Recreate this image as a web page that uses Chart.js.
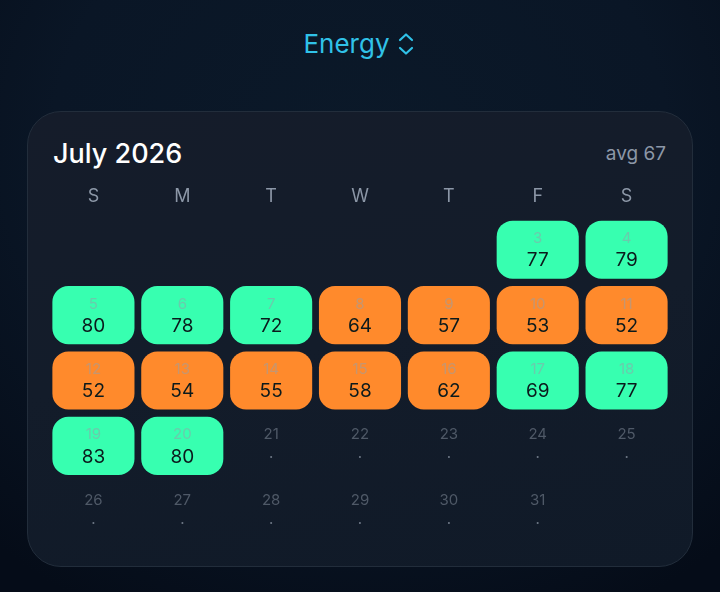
<!DOCTYPE html>
<html>
<head>
<meta charset="utf-8">
<title>Energy</title>
<script src="https://cdn.jsdelivr.net/npm/chart.js@4/dist/chart.umd.min.js"></script>
<style>
html, body { margin: 0; padding: 0; }
body {
    width: 720px; height: 592px; overflow: hidden; position: relative;
    font-family: Inter, "Noto Sans", sans-serif;
    background: radial-gradient(ellipse 560px 520px at 360px 150px, #0b1929 0%, #0a1626 55%, #050c18 100%);
}
#heading {
    position: absolute; left: -1px; top: 27px; width: 720px; height: 34px;
    display: flex; justify-content: center; align-items: center;
    color: #30c2e8; font-size: 26px; line-height: 34px;
}
#heading svg { margin-left: 8px; margin-right: 1px; }
#card {
    position: absolute; left: 27px; top: 111px; width: 664px; height: 454px;
    border: 1px solid #222d3b; border-radius: 34px;
    background: linear-gradient(170deg, #151c2a 0%, #131c2a 50%, #101a28 100%);
}
#month { position: absolute; left: 53px; top: 136px; color: #fff; font-size: 27px; font-weight: 500; line-height: 36px; }
#avg { position: absolute; right: 54px; top: 141px; color: #8c97a7; font-size: 19px; line-height: 26px; }
#chart { position: absolute; left: 0; top: 0; }
</style>
</head>
<body>
<div id="card"></div>
<div id="heading">Energy<svg width="16" height="24" viewBox="0 0 16 24" fill="none" stroke="#30c2e8" stroke-width="2.2" stroke-linecap="round" stroke-linejoin="round"><path d="M2 8 L8 2.5 L14 8"/><path d="M2 16 L8 21.5 L14 16"/></svg></div>
<div id="month">July 2026</div>
<div id="avg">avg 67</div>
<canvas id="chart" width="720" height="592"></canvas>
<script>
var weekdays = ["S", "M", "T", "W", "T", "F", "S"];
var week1Days = [null, null, null, null, null, 3, 4];
var week2Days = [5, 6, 7, 8, 9, 10, 11];
var week3Days = [12, 13, 14, 15, 16, 17, 18];
var week4Days = [19, 20, 21, 22, 23, 24, 25];
var week5Days = [26, 27, 28, 29, 30, 31, null];
var week1Scores = [null, null, null, null, null, 77, 79];
var week2Scores = [80, 78, 72, 64, 57, 53, 52];
var week3Scores = [52, 54, 55, 58, 62, 69, 77];
var week4Scores = [83, 80, null, null, null, null, null];
var week5Scores = [null, null, null, null, null, null, null];

var weekDays = [week1Days, week2Days, week3Days, week4Days, week5Days];
var weekScores = [week1Scores, week2Scores, week3Scores, week4Scores, week5Scores];

var GOOD = "#37ffb0";
var LOW = "#ff8a2c";
var threshold = 65;
var gap = 0.056;

// every week is its own dataset, bars float inside the week's band on the y axis
var datasets = weekScores.map(function (scores, week) {
    return {
        data: scores.map(function (score) {
            return score === null ? null : [week + gap, week + 1 - gap];
        }),
        backgroundColor: scores.map(function (score) {
            return score >= threshold ? GOOD : LOW;
        }),
        borderRadius: 16,
        borderSkipped: false,
        barPercentage: 0.924,
        categoryPercentage: 1
    };
});

var cellLabels = {
    id: "cellLabels",
    afterDatasetsDraw: function (chart) {
        var ctx = chart.ctx;
        var x = chart.scales.x;
        var y = chart.scales.y;
        ctx.save();
        ctx.textAlign = "center";
        ctx.textBaseline = "middle";
        weekDays.forEach(function (days, week) {
            var cy = y.getPixelForValue(week + 0.5);
            days.forEach(function (day, col) {
                if (day === null) return;
                var cx = x.getPixelForTick(col);
                var score = weekScores[week][col];
                ctx.font = "15px Inter";
                ctx.fillStyle = score === null ? "#4f5967" : "rgba(150,160,170,0.55)";
                ctx.fillText(String(day), cx, cy - 11);
                if (score === null) {
                    ctx.fillStyle = "#6a7482";
                    ctx.fillText(".", cx, cy + 8);
                } else {
                    ctx.font = "19px Inter";
                    ctx.fillStyle = "#0b1a1c";
                    ctx.fillText(String(score), cx, cy + 11);
                }
            });
        });
        ctx.restore();
    }
};

new Chart(document.getElementById("chart"), {
    type: "bar",
    data: { labels: weekdays, datasets: datasets },
    plugins: [cellLabels],
    options: {
        responsive: false,
        animation: false,
        events: [],
        layout: { padding: { left: 49, right: 49, top: 177, bottom: 48 } },
        plugins: { legend: { display: false }, tooltip: { enabled: false } },
        datasets: { bar: { grouped: false } },
        scales: {
            x: {
                position: "top",
                grid: { display: false },
                border: { display: false },
                afterFit: function (scale) { scale.height = 40; },
                ticks: {
                    color: "#8c97a7",
                    padding: 2,
                    maxRotation: 0,
                    autoSkip: false,
                    font: { family: "Inter", size: 18 }
                }
            },
            y: {
                display: false,
                reverse: true,
                min: 0,
                max: 5
            }
        }
    }
});
</script>
</body>
</html>
